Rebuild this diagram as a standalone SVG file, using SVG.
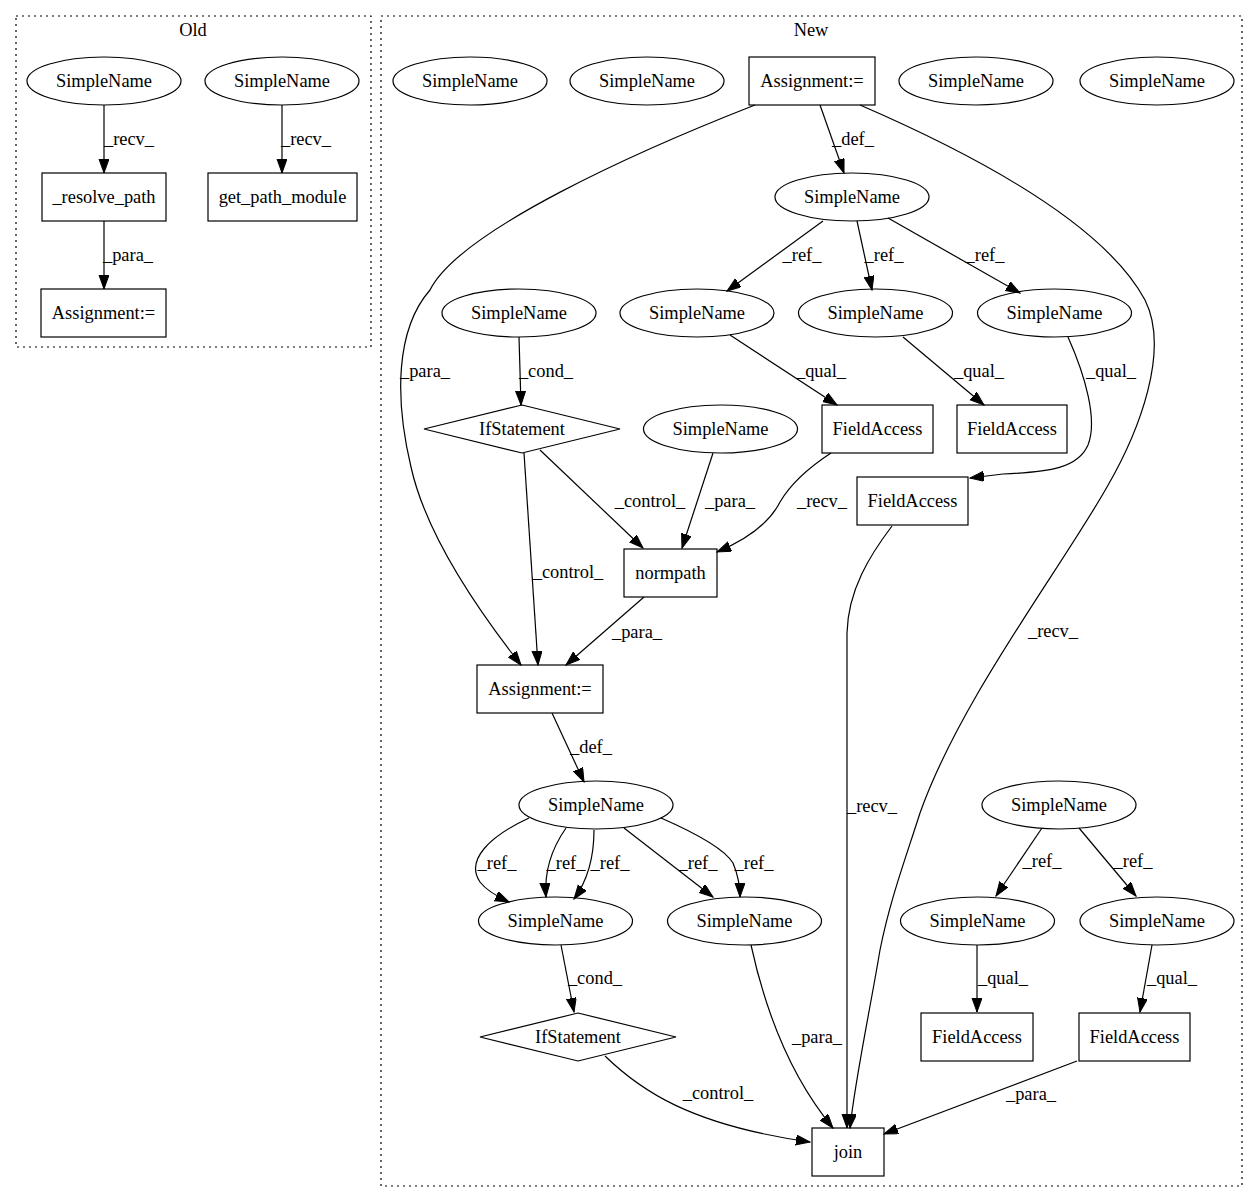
<svg xmlns="http://www.w3.org/2000/svg" width="1259" height="1204" viewBox="0 0 1259 1204">
<style>
text{font-family:"Liberation Serif","Times New Roman",serif;font-size:18.4px;fill:#000;text-anchor:middle}
.n ellipse,.n rect,.n polygon{fill:none;stroke:#000;stroke-width:1.2}
.cl{fill:none;stroke:#000;stroke-width:1.2;stroke-dasharray:2,4}
.e path{fill:none;stroke:#000;stroke-width:1.2;marker-end:url(#ah)}
</style>
<defs>
<marker id="ah" markerUnits="userSpaceOnUse" markerWidth="15" markerHeight="11" refX="14" refY="5" orient="auto">
<path d="M0,0 L14,5 L0,10 z" fill="#000" stroke="#000" stroke-width="1"/>
</marker>
</defs>
<rect width="1259" height="1204" fill="#fff"/>
<g id="cluster_old">
<rect class="cl" x="16" y="16" width="355" height="331"/>
<text x="193" y="36">Old</text>
</g>
<g id="cluster_new">
<rect class="cl" x="381" y="16" width="861" height="1170"/>
<text x="811" y="36">New</text>
</g>
<g id="o1" class="n"><ellipse cx="104" cy="81" rx="77" ry="24"/><text x="104" y="87">SimpleName</text></g>
<g id="o2" class="n"><ellipse cx="282" cy="81" rx="77" ry="24"/><text x="282" y="87">SimpleName</text></g>
<g id="o3" class="n"><rect x="42" y="173" width="124" height="48"/><text x="104" y="203">_resolve_path</text></g>
<g id="o4" class="n"><rect x="208" y="173" width="149" height="48"/><text x="282.5" y="203">get_path_module</text></g>
<g id="o5" class="n"><rect x="41" y="289" width="125" height="48"/><text x="103.5" y="319">Assignment:=</text></g>

<g id="n1" class="n"><ellipse cx="470" cy="81" rx="77" ry="24"/><text x="470" y="87">SimpleName</text></g>
<g id="n2" class="n"><ellipse cx="647" cy="81" rx="77" ry="24"/><text x="647" y="87">SimpleName</text></g>
<g id="n3" class="n"><rect x="749" y="57" width="126" height="48"/><text x="812" y="87">Assignment:=</text></g>
<g id="n4" class="n"><ellipse cx="976" cy="81" rx="77" ry="24"/><text x="976" y="87">SimpleName</text></g>
<g id="n5" class="n"><ellipse cx="1157" cy="81" rx="77" ry="24"/><text x="1157" y="87">SimpleName</text></g>
<g id="n6" class="n"><ellipse cx="852" cy="197" rx="77" ry="24"/><text x="852" y="203">SimpleName</text></g>
<g id="n7" class="n"><ellipse cx="519" cy="313" rx="77" ry="24"/><text x="519" y="319">SimpleName</text></g>
<g id="n8" class="n"><ellipse cx="697" cy="313" rx="77" ry="24"/><text x="697" y="319">SimpleName</text></g>
<g id="n9" class="n"><ellipse cx="875.5" cy="313" rx="77" ry="24"/><text x="875.5" y="319">SimpleName</text></g>
<g id="n10" class="n"><ellipse cx="1054.5" cy="313" rx="77" ry="24"/><text x="1054.5" y="319">SimpleName</text></g>
<g id="n11" class="n"><polygon points="522,405 620,429 522,453 424,429"/><text x="522" y="435">IfStatement</text></g>
<g id="n12" class="n"><ellipse cx="720.5" cy="429" rx="77" ry="24"/><text x="720.5" y="435">SimpleName</text></g>
<g id="n13" class="n"><rect x="822" y="405" width="111" height="48"/><text x="877.5" y="435">FieldAccess</text></g>
<g id="n14" class="n"><rect x="957" y="405" width="110" height="48"/><text x="1012" y="435">FieldAccess</text></g>
<g id="n15" class="n"><rect x="857" y="477" width="111" height="48"/><text x="912.5" y="507">FieldAccess</text></g>
<g id="n16" class="n"><rect x="624" y="549" width="93" height="48"/><text x="670.5" y="579">normpath</text></g>
<g id="n17" class="n"><rect x="477" y="665" width="126" height="48"/><text x="540" y="695">Assignment:=</text></g>
<g id="n18" class="n"><ellipse cx="596" cy="805" rx="77" ry="24"/><text x="596" y="811">SimpleName</text></g>
<g id="n19" class="n"><ellipse cx="1059" cy="805" rx="77" ry="24"/><text x="1059" y="811">SimpleName</text></g>
<g id="n20" class="n"><ellipse cx="555.5" cy="921" rx="77" ry="24"/><text x="555.5" y="927">SimpleName</text></g>
<g id="n21" class="n"><ellipse cx="744.5" cy="921" rx="77" ry="24"/><text x="744.5" y="927">SimpleName</text></g>
<g id="n22" class="n"><ellipse cx="977.5" cy="921" rx="77" ry="24"/><text x="977.5" y="927">SimpleName</text></g>
<g id="n23" class="n"><ellipse cx="1157" cy="921" rx="77" ry="24"/><text x="1157" y="927">SimpleName</text></g>
<g id="n24" class="n"><polygon points="578,1013 676,1037 578,1061 480,1037"/><text x="578" y="1043">IfStatement</text></g>
<g id="n25" class="n"><rect x="921" y="1013" width="112" height="48"/><text x="977" y="1043">FieldAccess</text></g>
<g id="n26" class="n"><rect x="1079" y="1013" width="111" height="48"/><text x="1134.5" y="1043">FieldAccess</text></g>
<g id="n27" class="n"><rect x="812" y="1128" width="72" height="48"/><text x="848" y="1158">join</text></g>

<g id="edges" class="e">
<path d="M104,105 L104,173"/><text x="129" y="145">_recv_</text>
<path d="M282,105 L282,173"/><text x="306" y="145">_recv_</text>
<path d="M104,221 L104,289"/><text x="128" y="261">_para_</text>

<path d="M820,105 L844,173"/><text x="853" y="145">_def_</text>
<path d="M755,105 C640,150 460,230 430,290 C395,330 395,400 411,467 C425,530 470,600 521,665"/><text x="425" y="377">_para_</text>
<path d="M860,105 C1010,170 1110,235 1145,300 C1170,350 1140,430 1107,487 C1060,570 960,700 920,813 C905,860 890,900 880,950 C870,1010 855,1080 850,1128"/><text x="1053" y="637">_recv_</text>
<path d="M823,221 L727,291"/><text x="802" y="261">_ref_</text>
<path d="M857,221 L872,290"/><text x="884" y="261">_ref_</text>
<path d="M888,218 L1020,293"/><text x="985" y="261">_ref_</text>
<path d="M519,337 L521,405"/><text x="546" y="377">_cond_</text>
<path d="M730,335 L837,405"/><text x="821" y="377">_qual_</text>
<path d="M903,337 L984,405"/><text x="979" y="377">_qual_</text>
<path d="M1068,337 C1085,375 1098,420 1088,445 C1078,468 1050,472 1003,474 L970,478"/><text x="1111" y="377">_qual_</text>
<path d="M540,450 L643,548"/><text x="650" y="507">_control_</text>
<path d="M713,453 L682,548"/><text x="730" y="507">_para_</text>
<path d="M831,453 C805,470 790,485 780,502 C770,522 750,538 717,552"/><text x="822" y="507">_recv_</text>
<path d="M524,453 L538,665"/><text x="568" y="578">_control_</text>
<path d="M644,597 L566,665"/><text x="637" y="638">_para_</text>
<path d="M892,526 C870,555 848,590 847,633 L847,1128"/><text x="872" y="812">_recv_</text>
<path d="M552,713 L584,782"/><text x="591" y="753">_def_</text>
<path d="M529,818 C490,836 465,860 480,882 C486,890 496,896 509,902"/><text x="497" y="869">_ref_</text>
<path d="M566,828 C552,848 544,870 546,897"/><text x="566" y="869">_ref_</text>
<path d="M594,830 C594,855 588,880 574,899"/><text x="610" y="869">_ref_</text>
<path d="M624,828 L713,897"/><text x="698" y="869">_ref_</text>
<path d="M661,818 C700,835 725,850 733,863 C738,875 740,885 740,897"/><text x="754" y="869">_ref_</text>
<path d="M561,945 L574,1012"/><text x="595" y="984">_cond_</text>
<path d="M751,945 C763,1000 785,1070 833,1128"/><text x="817" y="1043">_para_</text>
<path d="M605,1056 C640,1090 690,1125 810,1142"/><text x="718" y="1099">_control_</text>
<path d="M1042,828 L996,896"/><text x="1042" y="867">_ref_</text>
<path d="M1079,828 L1136,896"/><text x="1133" y="867">_ref_</text>
<path d="M977,945 L977,1012"/><text x="1003" y="984">_qual_</text>
<path d="M1152,945 L1140,1012"/><text x="1172" y="984">_qual_</text>
<path d="M1077,1061 L884,1134"/><text x="1031" y="1100">_para_</text>
</g>
</svg>
